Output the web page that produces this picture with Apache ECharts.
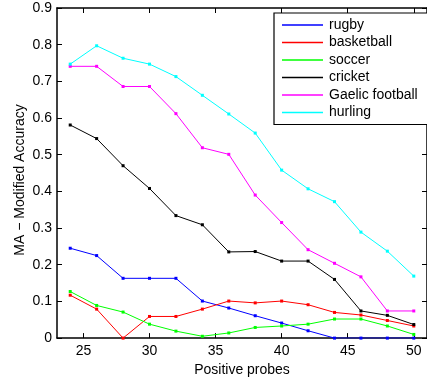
<!DOCTYPE html>
<html><head><meta charset="utf-8">
<script src="https://cdn.jsdelivr.net/npm/echarts@6/dist/echarts.min.js"></script>
<style>html,body{margin:0;padding:0;background:#fff}#c{width:427px;height:382px}</style>
</head><body><div id="c"></div>
<script>
var probes = [24,26,28,30,32,34,36,38,40,42,44,46,48,50];
var rugby = [0.245,0.225,0.163,0.163,0.163,0.101,0.082,0.061,0.041,0.020,0,0,0,0];
var basketball = [0.117,0.079,0,0.059,0.059,0.079,0.101,0.096,0.101,0.091,0.070,0.063,0.048,0.033];
var soccer = [0.127,0.089,0.071,0.038,0.019,0.005,0.014,0.029,0.033,0.038,0.052,0.052,0.033,0.010];
var cricket = [0.581,0.544,0.470,0.408,0.334,0.309,0.235,0.236,0.210,0.210,0.160,0.074,0.062,0.037];
var gaelic = [0.741,0.741,0.686,0.686,0.612,0.519,0.501,0.390,0.315,0.241,0.204,0.167,0.074,0.074];
var hurling = [0.747,0.797,0.763,0.747,0.713,0.662,0.611,0.559,0.458,0.407,0.372,0.289,0.237,0.169];
var names = ['rugby','basketball','soccer','cricket','Gaelic football','hurling'];
var colors = ['#0000ff','#ff0000','#00ff00','#000000','#ff00ff','#00ffff'];
var all = [rugby,basketball,soccer,cricket,gaelic,hurling];
var xTicks = [25,30,35,40,45,50];
var font = 'Liberation Sans, Arial, sans-serif';

var chart = echarts.init(document.getElementById('c'));
var series = all.map(function(vals,i){
  return {
    name: names[i], type:'line', data: probes.map(function(p,j){return [p, vals[j]];}),
    symbol:'rect', symbolSize:3, showSymbol:true,
    lineStyle:{color:colors[i], width:1}, itemStyle:{color:colors[i]},
    emphasis:{disabled:true}, animation:false, z: 2
  };
});
var axisLine = {show:true, onZero:false, lineStyle:{color:'#000', width:1.5}};
var tick = {show:true, inside:true, length:5, lineStyle:{color:'#000'}};
chart.setOption({
  animation:false,
  grid:{left:57, top:8, width:371, height:331},
  legend:{
    orient:'vertical', left:274, top:13,
    data: names.map(function(n,i){return {name:n, icon:'rect', itemStyle:{color:colors[i]}};}),
    itemWidth:41, itemHeight:1.5, itemGap:3.5,
    padding:[5,20,5,8], borderColor:'#000', borderWidth:1.2, backgroundColor:'#fff',
    textStyle:{fontFamily:font, fontSize:14, color:'#000', padding:[0,0,0,1]},
    selectedMode:false
  },
  graphic:[{type:'text', x:20, y:180, rotation:Math.PI/2,
    style:{text:'MA \u2212 Modified Accuracy', fontFamily:font, fontSize:14, fill:'#000',
      align:'center', verticalAlign:'middle'}}],
  xAxis:[
    {type:'value', min:23, max:51, position:'bottom',
      name:'Positive probes', nameLocation:'middle', nameGap:22,
      nameTextStyle:{fontFamily:font, fontSize:14, color:'#000'},
      axisLabel:{fontFamily:font, fontSize:14, color:'#000', margin:6, customValues: xTicks},
      axisTick:Object.assign({customValues:xTicks}, tick),
      axisLine:axisLine, splitLine:{show:false}},
    {type:'value', min:23, max:51, position:'top',
      axisLabel:{show:false},
      axisTick:Object.assign({customValues:xTicks}, tick),
      axisLine:axisLine, splitLine:{show:false}}
  ],
  yAxis:[
    {type:'value', min:0, max:0.9, interval:0.1, position:'left',
      axisLabel:{fontFamily:font, fontSize:14, color:'#000', margin:5,
        formatter:function(v){return String(Math.round(v*10)/10);}},
      axisTick:tick, axisLine:axisLine, splitLine:{show:false}},
    {type:'value', min:0, max:0.9, interval:0.1, position:'right',
      axisLabel:{show:false}, axisTick:tick, axisLine:axisLine, splitLine:{show:false}}
  ],
  series: series
});
</script></body></html>
